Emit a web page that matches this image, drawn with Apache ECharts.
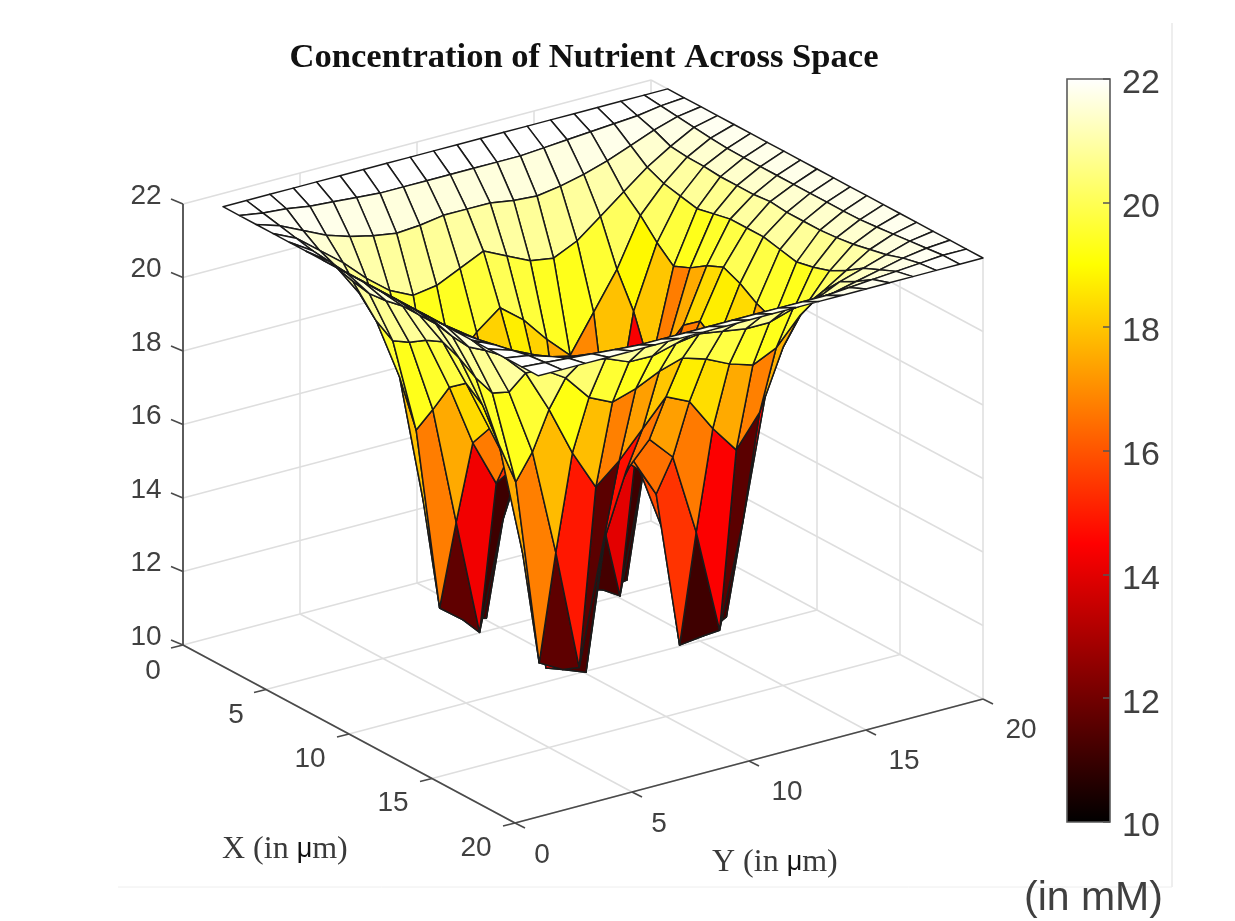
<!DOCTYPE html>
<html><head><meta charset="utf-8">
<style>html,body{margin:0;padding:0;background:#fff}#c{width:1235px;height:921px}</style>
<script src="https://cdn.jsdelivr.net/npm/echarts@6/dist/echarts.min.js"></script>
</head><body><div id="c"></div>
<script>
const xGrid=[1,2,3,4,5,6,7,8,9,10,11,12,13,14,15,16,17,18,19,20];
const yGrid=[1,2,3,4,5,6,7,8,9,10,11,12,13,14,15,16,17,18,19,20];
const zRows=[
[22,22,22,22,22,22,22,22,22,22,22,22,22,22,22,22,22,22,22,22],
[22,21.9,21.85,21.75,21.7,21.65,21.6,21.6,21.6,21.6,21.6,21.6,21.6,21.65,21.7,21.75,21.8,21.85,21.95,22],
[22,21.8,21.5,21.2,21,20.85,20.75,20.8,20.9,20.9,20.9,20.8,20.75,20.85,21,21.2,21.45,21.7,21.9,22],
[22,21.7,21.2,20.7,20.1,19.6,19.3,19.4,19.7,20,19.7,19.4,19.3,19.6,20.1,20.6,21.1,21.5,21.85,22],
[22,21.6,21,20.1,18.9,17.9,16.9,17.5,18.2,18.7,18.2,17.5,16.9,17.9,18.9,20.2,20.9,21.45,21.8,22],
[22,21.55,20.85,19.6,17.9,14.4,11.4,14.4,16.5,17.3,16.5,14.4,11.4,14.4,18,19.7,20.8,21.44,21.76,22],
[22,21.5,20.75,19.3,16.7,11.69,11.2,11.08,15.4,16.6,15.4,11.2,11,11.1,16.7,19.3,20.7,21.4,21.75,22],
[22,21.5,20.8,19.5,17.5,14.27,11.1,14,15.8,16.4,15.8,14,11.08,14.3,17.5,19.5,20.8,21.4,21.75,22],
[22,21.5,20.9,19.8,18.35,16.67,15.4,15.8,16.4,16.8,16.4,15.8,15.4,16.67,18.35,19.8,20.9,21.4,21.75,22],
[22,21.5,20.9,20,18.7,17.3,16.6,16.4,16.8,17.2,16.8,16.4,16.6,17.3,18.7,20,20.9,21.45,21.75,22],
[22,21.5,20.9,19.8,18.35,16.67,15.4,15.8,16.4,16.8,16.4,15.8,15.4,16.67,18.35,19.8,20.9,21.4,21.75,22],
[22,21.5,20.8,19.5,17.5,14.4,11.1,14,15.8,16.4,15.8,14,11.1,14.3,17.5,19.5,20.8,21.4,21.75,22],
[22,21.5,20.75,19.33,16.74,11.65,11.3,11.06,15.4,16.5,15.4,11.12,11.2,11.55,16.75,19.3,20.7,21.4,21.75,22],
[22,21.55,20.9,19.6,17.8,14.9,11.6,14.76,16.6,17.3,16.65,14.44,11.6,14.4,17.8,19.6,20.8,21.44,21.76,22],
[22,21.6,21,20.36,19.2,17.85,16.75,17.3,18,18.7,18.4,17.5,16.75,17.6,19.2,20.2,20.95,21.5,21.8,22],
[22,21.7,21.25,20.7,20.3,19.6,19.3,19.5,19.8,20,19.8,19.5,19.3,19.6,20.3,20.8,21.2,21.6,21.85,22],
[22,21.8,21.5,21.2,21,20.9,20.64,20.63,20.8,20.9,20.8,20.7,20.7,20.9,21,21.3,21.5,21.7,21.9,22],
[22,21.9,21.7,21.55,21.4,21.35,21.3,21.3,21.3,21.3,21.3,21.3,21.3,21.35,21.4,21.55,21.7,21.85,21.95,22],
[22,21.95,21.9,21.85,21.8,21.75,21.75,21.75,21.75,21.75,21.75,21.75,21.75,21.75,21.8,21.85,21.9,21.95,22,22],
[22,22,22,22,22,22,22,22,22,22,22,22,22,22,22,22,22,22,22,22]
];
const xTicks=[0,5,10,15,20];
const yTicks=[0,5,10,15,20];
const zTicks=[10,12,14,16,18,20,22];
const zRange=[10,22];
const hotStops=[[0,'#000000'],[0.375,'#ff0000'],[0.75,'#ffff00'],[1,'#ffffff']];
const titleText='Concentration of Nutrient Across Space';
const INK='#404040', GRID='#dedede';

// fixed MATLAB-style orthographic view of the data box, expressed per data unit
const view={ox:183,oy:645,xx:16.6,xy:8.9,yx:23.4,yy:-6.2,zy:36.75};
const project=(x,y,z)=>[view.ox+view.xx*x+view.yx*y, view.oy+view.xy*x+view.yy*y-view.zy*(z-zRange[0])];
function hot(z){
  const t=Math.max(0,Math.min(1,(z-zRange[0])/(zRange[1]-zRange[0])));
  for(let i=1;i<hotStops.length;i++){
    if(t<=hotStops[i][0]){
      const a=hotStops[i-1],b=hotStops[i];
      return echarts.color.lerp((t-a[0])/(b[0]-a[0]),[a[1],b[1]]);
    }
  }
  return '#ffffff';
}
// cells back to front: x ascending, y descending (valid painter order for a height field)
const cells=[];
for(let i=0;i<xGrid.length-1;i++){
  for(let j=yGrid.length-2;j>=0;j--){
    cells.push([xGrid[i],yGrid[j],zRows[i][j],zRows[i+1][j],zRows[i+1][j+1],zRows[i][j+1]]);
  }
}
// box furniture as 3D segments: [x0,y0,z0,x1,y1,z1,kind]
const segs=[];
const [zMin,zMax]=zRange;
xTicks.forEach(x=>{
  segs.push([x,0,zMin,x,20,zMin,0]);
  if(x>0) segs.push([x,20,zMin,x,20,zMax,0]);
});
yTicks.forEach(y=>{
  segs.push([0,y,zMin,20,y,zMin,0]);
  if(y>0) segs.push([0,y,zMin,0,y,zMax,0]);
});
zTicks.forEach(z=>{
  if(z>zMin){segs.push([0,0,z,0,20,z,0]);segs.push([0,20,z,20,20,z,0]);}
});
segs.push([0,0,zMin,20,0,zMin,1]);
segs.push([20,0,zMin,20,20,zMin,1]);
segs.push([0,0,zMin,0,0,zMax,1]);
const tickItems=[];
xTicks.forEach(x=>tickItems.push([x,0,zMin,-12,3,String(x),x<10?-30:-39,x<10?26:25]));
yTicks.forEach(y=>tickItems.push([20,y,zMin,10,5,String(y),y<10?27:38,y<10?32:31]));
zTicks.forEach(z=>tickItems.push([0,0,z,-12,-5,String(z),-37,-8]));

const chart=echarts.init(document.getElementById('c'),null,{renderer:'canvas'});
const sans='"Liberation Sans",Arial,sans-serif', serif='"Liberation Serif","Times New Roman",serif';
function axisLabelRich(letter){return {
  text:`{a|${letter} (in }{b|μ}{a|m)}`,
  rich:{a:{fontFamily:serif,fontSize:32,fill:'#3a3a3a'},b:{fontFamily:sans,fontSize:27,fill:'#111'}}
};}
chart.setOption({
  animation:false,backgroundColor:'#ffffff',
  title:{text:titleText,left:584,top:36,textAlign:'center',textStyle:{fontFamily:serif,fontWeight:'bold',fontSize:34.6,color:'#111'},padding:[5,12,5,0]},
  grid:[{left:0,top:0,right:0,bottom:0},{left:1067,top:79,width:43,height:743}],
  xAxis:[{type:'value',min:0,max:1235,show:false,gridIndex:0},{type:'value',min:0,max:1,show:false,gridIndex:1}],
  yAxis:[{type:'value',min:0,max:921,inverse:true,show:false,gridIndex:0},
    {type:'value',gridIndex:1,position:'right',min:zRange[0],max:zRange[1],interval:2,z:5,
     axisLine:{show:false,onZero:false},splitLine:{show:false},
     axisTick:{show:true,inside:true,length:7,lineStyle:{color:'#555',width:1.5}},
     axisLabel:{show:true,margin:12,verticalAlign:'top',lineHeight:10,fontFamily:sans,fontSize:34,color:INK}}],
  series:[
   {type:'custom',xAxisIndex:0,yAxisIndex:0,z:1,silent:true,data:segs,encode:{x:0,y:1},
    renderItem(p,api){
      const a=project(api.value(0),api.value(1),api.value(2)),b=project(api.value(3),api.value(4),api.value(5));
      const ca=api.coord(a),cb=api.coord(b),dark=api.value(6)===1;
      return {type:'line',shape:{x1:ca[0],y1:ca[1],x2:cb[0],y2:cb[1]},style:{stroke:dark?'#4a4a4a':GRID,lineWidth:dark?1.8:1.5}};
    }},
   {type:'custom',xAxisIndex:0,yAxisIndex:0,z:2,silent:true,data:tickItems,encode:{x:0,y:1},
    renderItem(p,api){
      const c=api.coord(project(api.value(0),api.value(1),api.value(2)));
      const dx=api.value(3),dy=api.value(4),lx=api.value(6),ly=api.value(7);
      return {type:'group',children:[
        {type:'line',shape:{x1:c[0],y1:c[1],x2:c[0]+dx,y2:c[1]+dy},style:{stroke:'#4a4a4a',lineWidth:1.6}},
        {type:'text',x:c[0]+lx,y:c[1]+ly,style:{text:tickItems[p.dataIndex][5],fontFamily:sans,fontSize:28,fill:INK,align:'center',verticalAlign:'middle'}}
      ]};
    }},
   {type:'custom',xAxisIndex:0,yAxisIndex:0,z:3,silent:true,data:cells,encode:{x:0,y:1},
    renderItem(p,api){
      const x=api.value(0),y=api.value(1);
      const pts=[[x,y,api.value(2)],[x+1,y,api.value(3)],[x+1,y+1,api.value(4)],[x,y+1,api.value(5)]]
        .map(q=>api.coord(project(q[0],q[1],q[2])));
      return {type:'polygon',shape:{points:pts},style:{fill:hot(api.value(2)),stroke:'#1a1a1a',lineWidth:1.5,lineJoin:'round'}};
    }},
   {type:'custom',xAxisIndex:1,yAxisIndex:1,z:3,silent:true,data:[[0,zRange[1],1,zRange[0]]],encode:{x:0,y:1},
    renderItem(p,api){
      const a=api.coord([api.value(0),api.value(1)]),b=api.coord([api.value(2),api.value(3)]);
      const stops=hotStops.map(s=>({offset:1-s[0],color:s[1]})).reverse();
      return {type:'rect',shape:{x:a[0],y:a[1],width:b[0]-a[0],height:b[1]-a[1]},
        style:{fill:new echarts.graphic.LinearGradient(0,0,0,1,stops),stroke:'#5a5a5a',lineWidth:1.6}};
    }}
  ],
  graphic:[
   {type:'line',shape:{x1:1172,y1:23,x2:1172,y2:887},style:{stroke:'#dddddd',lineWidth:1},silent:true},
   {type:'line',shape:{x1:118,y1:887,x2:1172,y2:887},style:{stroke:'#eeeeee',lineWidth:1},silent:true},
   {type:'text',x:222,y:834,style:axisLabelRich('X')},
   {type:'text',x:712,y:847,style:axisLabelRich('Y')},
   {type:'text',x:1024,y:878,style:{text:'(in mM)',fontFamily:sans,fontSize:41,fill:INK}}
  ]
});
</script></body></html>
